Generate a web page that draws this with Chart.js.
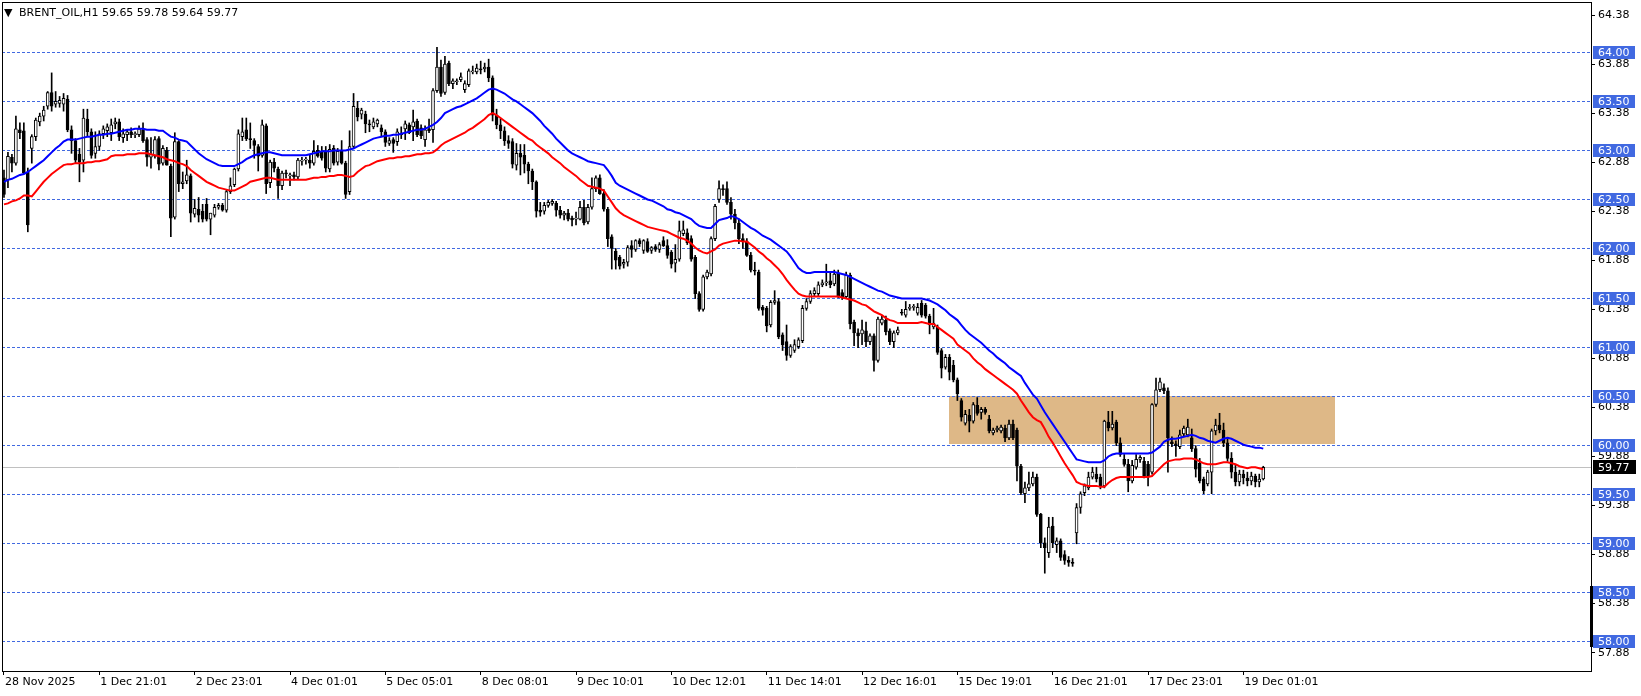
<!DOCTYPE html>
<html><head><meta charset="utf-8">
<script src="https://cdn.jsdelivr.net/npm/chart.js@4.4.1/dist/chart.umd.min.js"></script>
<style>html,body{margin:0;padding:0;background:#fff;overflow:hidden}canvas{display:block}</style>
</head><body>
<canvas id="c" width="1641" height="696"></canvas>
<script>
const symbolTitle = 'BRENT_OIL,H1 59.65 59.78 59.64 59.77';
const dateLabels = ['28 Nov 2025','1 Dec 21:01','2 Dec 23:01','4 Dec 01:01','5 Dec 05:01','8 Dec 08:01','9 Dec 10:01','10 Dec 12:01','11 Dec 14:01','12 Dec 16:01','15 Dec 19:01','16 Dec 21:01','17 Dec 23:01','19 Dec 01:01'];
const opens = [
62.72,62.70,62.93,62.87,63.21,63.20,62.78,63.02,63.14,63.29,
63.35,63.45,63.59,63.47,63.48,63.47,63.52,63.21,63.10,62.96,
62.90,63.32,63.19,62.97,63.04,63.17,63.20,63.18,63.27,63.29,
63.13,63.16,63.19,63.16,63.16,63.21,63.11,62.93,62.94,63.12,
62.87,63.00,62.84,62.32,63.09,62.66,62.69,62.74,62.35,62.40,
62.38,62.45,62.30,62.34,62.42,62.44,62.39,62.58,62.65,62.81,
63.14,63.21,63.12,63.10,63.04,62.95,63.25,62.67,62.88,62.81,
62.64,62.77,62.74,62.75,62.73,62.89,62.90,62.90,62.87,63.00,
62.98,62.99,62.81,63.02,62.88,63.00,62.87,62.58,63.04,63.43,
63.37,63.37,63.27,63.24,63.27,63.23,63.19,63.07,63.11,63.09,
63.17,63.22,63.26,63.24,63.30,63.23,63.11,63.22,63.21,63.61,
63.85,63.59,63.89,63.68,63.70,63.72,63.62,63.67,63.80,63.80,
63.83,63.83,63.85,63.74,63.36,63.26,63.20,63.10,63.09,62.85,
62.97,62.95,62.86,62.79,62.68,62.39,62.38,62.44,62.46,62.46,
62.39,62.34,62.36,62.31,62.30,62.30,62.42,62.27,62.42,62.61,
62.72,62.56,62.40,62.12,61.97,61.91,61.84,61.86,62.03,61.99,
62.08,61.98,62.07,61.98,62.02,61.99,62.08,62.03,61.96,61.85,
61.89,62.15,62.16,62.10,61.91,61.54,61.38,61.71,61.74,62.10,
62.50,62.61,62.61,62.47,62.35,62.26,62.10,62.07,61.93,61.78,
61.76,61.40,61.39,61.22,61.45,61.46,61.12,61.05,60.91,60.96,
61.00,61.06,61.39,61.46,61.54,61.54,61.63,61.65,61.67,61.64,
61.75,61.55,61.51,61.73,61.25,61.14,61.13,61.16,61.05,61.11,
60.86,61.24,61.27,61.16,61.05,61.14,61.35,61.32,61.39,61.40,
61.34,61.44,61.42,61.31,61.20,61.20,60.96,60.79,60.89,60.81,
60.66,60.45,60.22,60.30,60.24,60.40,60.33,60.36,60.26,60.12,
60.15,60.14,60.17,60.07,60.21,60.15,59.78,59.50,59.56,59.60,
59.67,59.29,59.00,58.90,59.17,58.98,59.02,58.88,58.82,58.80,
59.10,59.36,59.51,59.56,59.67,59.70,59.67,59.58,60.23,60.17,
60.23,60.02,59.85,59.80,59.63,59.77,59.85,59.83,59.80,59.72,
60.41,60.56,60.58,60.55,60.03,60.01,59.98,60.11,60.10,60.07,
59.96,59.81,59.65,59.60,59.72,60.14,60.20,60.15,60.02,59.86,
59.72,59.62,59.70,59.66,59.63,59.68,59.62,59.65];
const highs = [
62.80,62.98,62.96,63.35,63.28,63.28,62.82,63.16,63.33,63.38,
63.45,63.60,63.79,63.60,63.55,63.58,63.56,63.25,63.12,63.02,
63.42,63.42,63.22,63.19,63.20,63.25,63.27,63.32,63.33,63.32,
63.22,63.21,63.23,63.19,63.25,63.28,63.13,63.13,63.14,63.14,
63.05,63.03,62.86,63.18,63.10,62.78,62.90,62.76,62.50,62.52,
62.45,62.51,62.36,62.45,62.46,62.46,62.60,62.72,62.82,63.21,
63.33,63.33,63.28,63.12,63.06,63.31,63.27,62.90,62.92,62.83,
62.79,62.80,62.77,62.78,62.92,62.93,62.93,62.95,63.10,63.05,
63.04,63.04,63.06,63.05,63.02,63.10,62.89,63.20,63.58,63.50,
63.43,63.40,63.31,63.33,63.32,63.26,63.21,63.13,63.13,63.22,
63.24,63.30,63.28,63.41,63.32,63.26,63.25,63.32,63.63,64.05,
63.92,63.96,63.91,63.73,63.73,63.79,63.71,63.83,63.86,63.88,
63.91,63.89,63.93,63.76,63.42,63.32,63.24,63.15,63.12,63.07,
63.06,63.06,62.88,62.81,62.69,62.47,62.47,62.49,62.50,62.48,
62.43,62.38,62.40,62.33,62.37,62.48,62.49,62.45,62.72,62.74,
62.75,62.60,62.42,62.14,62.00,61.93,61.89,62.03,62.08,62.09,
62.10,62.09,62.10,62.02,62.04,62.06,62.12,62.09,61.98,62.04,
62.28,62.28,62.20,62.13,61.93,61.56,61.73,61.78,62.12,62.45,
62.69,62.65,62.68,62.52,62.40,62.30,62.15,62.10,61.96,61.86,
61.78,61.42,61.41,61.47,61.57,61.49,61.14,61.22,61.02,61.07,
61.09,61.42,61.49,61.57,61.60,61.66,61.68,61.84,61.76,61.78,
61.78,61.58,61.76,61.75,61.27,61.18,61.27,61.25,61.13,61.13,
61.30,61.31,61.31,61.18,61.16,61.20,61.38,61.46,61.43,61.43,
61.44,61.47,61.44,61.33,61.39,61.22,60.98,60.92,60.92,60.86,
60.68,60.47,60.35,60.36,60.43,60.48,60.38,60.38,60.30,60.17,
60.19,60.20,60.20,60.25,60.25,60.17,59.80,59.62,59.72,59.72,
59.70,59.30,59.05,59.26,59.26,59.05,59.04,58.92,58.86,58.84,
59.40,59.52,59.60,59.72,59.77,59.77,59.70,60.25,60.34,60.34,
60.25,60.07,59.90,59.85,59.84,59.90,59.89,59.87,59.83,60.42,
60.68,60.68,60.62,60.58,60.08,60.04,60.15,60.19,60.26,60.16,
59.99,59.86,59.67,59.74,60.16,60.26,60.32,60.22,60.06,59.92,
59.80,59.74,59.74,59.72,59.72,59.70,59.70,59.78];
const lows = [
62.52,62.62,62.78,62.85,63.12,62.76,62.17,62.87,63.10,63.25,
63.30,63.42,63.40,63.44,63.44,63.40,63.19,62.97,62.87,62.68,
62.78,63.15,62.92,62.92,63.00,63.12,63.14,63.10,63.22,63.10,
63.08,63.10,63.13,63.13,63.14,63.08,62.84,62.82,62.92,62.80,
62.85,62.85,62.12,62.30,62.58,62.61,62.66,62.27,62.32,62.27,
62.27,62.28,62.14,62.32,62.40,62.38,62.37,62.56,62.63,62.79,
63.10,63.10,63.02,62.92,62.79,62.93,62.56,62.62,62.78,62.51,
62.60,62.72,62.64,62.70,62.71,62.85,62.86,62.82,62.85,62.93,
62.90,62.78,62.78,62.85,62.85,62.86,62.51,62.55,63.02,63.30,
63.32,63.18,63.19,63.22,63.24,63.15,63.04,63.05,62.98,63.05,
63.12,63.11,63.17,63.10,63.14,63.12,63.04,63.18,63.08,63.59,
63.55,63.57,63.66,63.63,63.67,63.70,63.59,63.65,63.78,63.78,
63.78,63.80,63.70,63.30,63.22,63.12,63.05,63.02,62.82,62.80,
62.75,62.77,62.66,62.60,62.32,62.33,62.35,62.42,62.44,62.33,
62.31,62.29,62.28,62.23,62.24,62.29,62.24,62.25,62.40,62.58,
62.55,62.38,62.02,61.79,61.79,61.79,61.80,61.82,61.91,61.97,
62.02,61.95,61.96,61.95,61.97,61.96,62.02,61.90,61.80,61.76,
61.87,62.13,62.04,61.87,61.49,61.36,61.36,61.69,61.72,62.08,
62.47,62.54,62.45,62.30,62.20,62.05,62.00,61.92,61.76,61.73,
61.37,61.32,61.15,61.20,61.43,61.08,60.96,60.86,60.89,60.94,
60.98,61.04,61.37,61.44,61.52,61.52,61.61,61.62,61.60,61.62,
61.50,61.48,61.49,61.18,61.01,60.99,61.02,61.00,61.02,60.75,
60.84,61.22,61.12,61.02,60.99,61.12,61.32,61.30,61.37,61.37,
61.32,61.30,61.29,61.13,61.18,60.92,60.68,60.77,60.66,60.64,
60.45,60.24,60.20,60.13,60.22,60.30,60.26,60.31,60.12,60.10,
60.13,60.12,60.03,60.05,60.05,59.63,59.49,59.41,59.53,59.58,
59.27,58.95,58.69,58.85,58.95,58.90,58.82,58.78,58.76,58.76,
58.99,59.30,59.48,59.54,59.65,59.62,59.55,59.56,60.14,60.15,
59.99,59.88,59.78,59.52,59.61,59.75,59.82,59.66,59.58,59.70,
60.39,60.54,60.52,59.72,59.98,59.88,59.96,60.09,60.08,59.93,
59.67,59.61,59.50,59.58,59.50,60.10,60.12,59.98,59.83,59.66,
59.58,59.58,59.60,59.58,59.59,59.57,59.57,59.64];
const closes = [
62.55,62.94,62.87,63.22,63.18,62.77,62.24,63.14,63.31,63.35,
63.41,63.59,63.45,63.50,63.51,63.53,63.21,63.10,62.90,62.88,
63.33,63.19,62.95,63.04,63.17,63.22,63.24,63.26,63.29,63.14,
63.17,63.19,63.16,63.17,63.22,63.10,62.93,62.96,63.11,62.86,
63.02,62.85,62.31,63.09,62.66,62.68,62.75,62.36,62.41,62.34,
62.30,62.30,62.36,62.42,62.44,62.39,62.58,62.64,62.81,63.17,
63.19,63.12,63.11,63.05,62.94,63.26,62.66,62.88,62.82,62.64,
62.77,62.76,62.75,62.73,62.90,62.90,62.91,62.87,62.99,62.94,
62.92,62.82,63.01,62.87,62.99,62.87,62.55,63.04,63.45,63.34,
63.41,63.27,63.26,63.29,63.31,63.19,63.08,63.10,63.07,63.19,
63.16,63.27,63.18,63.29,63.16,63.15,63.21,63.20,63.61,63.85,
63.58,63.88,63.68,63.71,63.71,63.75,63.68,63.81,63.81,63.84,
63.82,63.85,63.74,63.36,63.26,63.20,63.10,63.07,62.86,62.97,
62.93,62.86,62.79,62.68,62.38,62.37,62.44,62.47,62.48,62.39,
62.34,62.36,62.30,62.29,62.31,62.42,62.26,62.42,62.61,62.72,
62.56,62.40,62.10,62.00,61.88,61.82,61.86,62.01,61.99,62.08,
62.05,62.08,61.97,62.01,61.99,62.04,62.03,61.93,61.84,61.89,
62.18,62.19,62.06,61.89,61.54,61.38,61.71,61.76,62.10,62.43,
62.61,62.60,62.47,62.35,62.26,62.10,62.07,61.93,61.78,61.77,
61.39,61.37,61.21,61.45,61.47,61.10,61.02,60.91,61.00,61.02,
61.07,61.39,61.46,61.54,61.57,61.63,61.65,61.66,61.63,61.74,
61.52,61.51,61.73,61.23,61.14,61.11,61.17,61.05,61.11,60.86,
61.28,61.28,61.15,61.05,61.14,61.17,61.34,61.38,61.40,61.41,
61.40,61.32,61.31,61.22,61.24,60.94,60.78,60.89,60.74,60.66,
60.52,60.28,60.31,60.24,60.41,60.32,60.36,60.33,60.14,60.15,
60.17,60.18,60.07,60.21,60.07,59.78,59.51,59.56,59.60,59.67,
59.29,59.00,58.95,59.16,59.00,59.02,58.85,58.82,58.80,58.79,
59.36,59.50,59.58,59.67,59.72,59.65,59.58,60.24,60.17,60.21,
60.02,59.90,59.80,59.63,59.79,59.85,59.87,59.68,59.68,60.41,
60.56,60.64,60.55,60.07,60.01,59.99,60.10,60.17,60.18,59.96,
59.75,59.63,59.53,59.72,60.14,60.20,60.15,60.02,59.86,59.72,
59.62,59.70,59.66,59.63,59.68,59.62,59.65,59.77];
const maBlue = [
62.68,62.70,62.71,62.73,62.75,62.76,62.78,62.81,62.84,62.87,
62.90,62.94,62.98,63.02,63.05,63.09,63.11,63.11,63.11,63.12,
63.13,63.14,63.14,63.15,63.16,63.16,63.17,63.17,63.18,63.19,
63.20,63.21,63.21,63.22,63.22,63.22,63.21,63.21,63.21,63.20,
63.20,63.17,63.14,63.13,63.11,63.10,63.09,63.05,63.01,62.97,
62.94,62.91,62.89,62.87,62.85,62.84,62.84,62.84,62.84,62.86,
62.88,62.91,62.93,62.95,62.96,62.97,62.98,62.98,62.97,62.96,
62.95,62.95,62.95,62.95,62.95,62.95,62.95,62.96,62.97,62.98,
62.99,62.99,62.99,63.00,63.00,63.00,63.00,63.01,63.02,63.04,
63.06,63.08,63.10,63.12,63.13,63.14,63.15,63.15,63.16,63.16,
63.17,63.18,63.19,63.20,63.21,63.21,63.22,63.24,63.26,63.29,
63.33,63.38,63.40,63.42,63.44,63.45,63.47,63.49,63.51,63.53,
63.56,63.59,63.62,63.63,63.62,63.60,63.58,63.55,63.52,63.50,
63.47,63.44,63.41,63.38,63.34,63.30,63.25,63.21,63.17,63.12,
63.08,63.04,63.00,62.97,62.95,62.93,62.91,62.89,62.88,62.87,
62.86,62.85,62.80,62.74,62.67,62.64,62.62,62.60,62.58,62.56,
62.54,62.52,62.50,62.49,62.47,62.45,62.43,62.40,62.39,62.37,
62.36,62.34,62.32,62.30,62.26,62.23,62.22,62.21,62.21,62.25,
62.29,62.30,62.31,62.33,62.32,62.30,62.27,62.24,62.21,62.19,
62.16,62.13,62.11,62.09,62.06,62.03,62.00,61.97,61.92,61.86,
61.80,61.77,61.75,61.75,61.76,61.76,61.76,61.76,61.76,61.76,
61.75,61.74,61.73,61.71,61.69,61.67,61.65,61.63,61.61,61.59,
61.57,61.56,61.54,61.52,61.51,61.50,61.49,61.49,61.49,61.49,
61.49,61.49,61.48,61.47,61.45,61.43,61.40,61.37,61.33,61.30,
61.27,61.22,61.17,61.13,61.10,61.07,61.04,61.00,60.96,60.93,
60.89,60.86,60.83,60.79,60.76,60.73,60.70,60.63,60.57,60.51,
60.47,60.40,60.33,60.27,60.21,60.15,60.09,60.03,59.97,59.91,
59.85,59.84,59.83,59.82,59.82,59.82,59.82,59.84,59.88,59.90,
59.91,59.91,59.91,59.91,59.91,59.91,59.91,59.91,59.91,59.92,
59.95,59.98,60.03,60.05,60.06,60.06,60.07,60.08,60.09,60.10,
60.09,60.07,60.06,60.04,60.03,60.02,60.04,60.06,60.07,60.06,
60.04,60.02,60.00,59.99,59.98,59.97,59.97,59.96];
const maRed = [
62.45,62.46,62.48,62.49,62.51,62.54,62.54,62.53,62.58,62.63,
62.68,62.72,62.76,62.79,62.82,62.85,62.86,62.86,62.87,62.87,
62.87,62.88,62.88,62.89,62.89,62.90,62.91,62.94,62.95,62.95,
62.95,62.96,62.96,62.96,62.97,62.97,62.97,62.96,62.95,62.94,
62.93,62.91,62.90,62.89,62.87,62.86,62.84,62.80,62.77,62.74,
62.71,62.68,62.66,62.64,62.62,62.61,62.60,62.59,62.59,62.61,
62.63,62.65,62.68,62.69,62.70,62.71,62.72,62.72,62.71,62.70,
62.70,62.70,62.70,62.70,62.70,62.70,62.70,62.71,62.72,62.72,
62.73,62.73,62.74,62.74,62.75,62.75,62.74,62.73,62.74,62.78,
62.81,62.84,62.85,62.87,62.89,62.90,62.91,62.92,62.92,62.93,
62.93,62.94,62.94,62.95,62.96,62.96,62.97,62.97,62.98,63.01,
63.05,63.08,63.10,63.12,63.14,63.16,63.18,63.21,63.23,63.26,
63.29,63.32,63.36,63.38,63.36,63.33,63.30,63.27,63.24,63.21,
63.18,63.15,63.12,63.10,63.06,63.03,63.00,62.97,62.93,62.90,
62.87,62.83,62.80,62.77,62.74,62.70,62.67,62.64,62.63,62.62,
62.61,62.59,62.53,62.47,62.41,62.37,62.34,62.32,62.30,62.28,
62.26,62.24,62.22,62.21,62.20,62.19,62.18,62.17,62.15,62.13,
62.11,62.10,62.08,62.05,62.01,61.98,61.96,61.95,61.97,61.99,
62.03,62.05,62.06,62.07,62.08,62.08,62.07,62.07,62.04,62.01,
61.97,61.94,61.90,61.87,61.83,61.79,61.74,61.68,61.63,61.58,
61.54,61.52,61.51,61.51,61.51,61.51,61.51,61.51,61.51,61.51,
61.51,61.50,61.49,61.48,61.47,61.45,61.43,61.42,61.39,61.36,
61.34,61.32,61.29,61.27,61.26,61.24,61.24,61.24,61.24,61.24,
61.24,61.25,61.24,61.23,61.23,61.20,61.17,61.14,61.11,61.08,
61.02,60.99,60.96,60.93,60.88,60.84,60.81,60.77,60.74,60.71,
60.68,60.65,60.62,60.59,60.56,60.52,60.45,60.39,60.33,60.28,
60.25,60.23,60.16,60.08,60.02,59.95,59.88,59.81,59.75,59.69,
59.62,59.60,59.59,59.58,59.58,59.58,59.57,59.57,59.61,59.64,
59.66,59.67,59.67,59.67,59.67,59.67,59.67,59.67,59.67,59.68,
59.72,59.76,59.80,59.83,59.84,59.85,59.85,59.86,59.86,59.86,
59.85,59.83,59.81,59.80,59.80,59.80,59.81,59.82,59.82,59.81,
59.80,59.78,59.77,59.76,59.77,59.77,59.76,59.75];
const yTicks = [57.88,58.38,58.88,59.38,59.88,60.38,60.88,61.38,61.88,62.38,62.88,63.38,63.88,64.38];
const levels = [58.00,58.50,59.00,59.50,60.00,60.50,61.00,61.50,62.00,62.50,63.00,63.50,64.00];
const lastPrice = 59.77;
const zone = {from: 238, to: 335, top: 60.50, bottom: 60.01};
const slotCount = 400;
const labelEvery = 24;

const xCats = Array.from({length: slotCount}, (_, i) => (i % labelEvery === 0 && dateLabels[i / labelEvery]) ? dateLabels[i / labelEvery] : '');
const bodyColors = opens.map((o, i) => closes[i] >= o ? '#ffffff' : '#000000');

Chart.defaults.font.family = 'DejaVu Sans';
Chart.defaults.font.size = 11;
Chart.defaults.color = '#000';

const FONT = '11px "DejaVu Sans"';
const overlay = {
  id: 'overlay',
  beforeDatasetsDraw(chart) {
    const {ctx, chartArea: a, scales: {x, y}} = chart;
    ctx.save();
    ctx.beginPath(); ctx.rect(a.left, a.top, a.right - a.left, a.bottom - a.top); ctx.clip();
    const x1 = Math.round(x.getPixelForValue(zone.from)), x2 = Math.round(x.getPixelForValue(zone.to));
    const y1 = Math.round(y.getPixelForValue(zone.top)), y2 = Math.round(y.getPixelForValue(zone.bottom));
    ctx.fillStyle = '#DEB887';
    ctx.fillRect(x1, y1, x2 - x1, y2 - y1);
    ctx.strokeStyle = '#4169E1'; ctx.lineWidth = 1; ctx.setLineDash([3, 2]);
    levels.forEach(v => {
      const py = Math.round(y.getPixelForValue(v)) + 0.5;
      ctx.beginPath(); ctx.moveTo(a.left, py); ctx.lineTo(a.right, py); ctx.stroke();
    });
    ctx.setLineDash([]);
    ctx.strokeStyle = '#C0C0C0';
    const lp = Math.round(y.getPixelForValue(lastPrice)) + 0.5;
    ctx.beginPath(); ctx.moveTo(a.left, lp); ctx.lineTo(a.right, lp); ctx.stroke();
    ctx.restore();
  },
  afterDraw(chart) {
    const {ctx, chartArea: a, scales: {y}} = chart;
    ctx.save();
    ctx.strokeStyle = '#000'; ctx.lineWidth = 1;
    ctx.strokeRect(a.left + 0.5, a.top - 0.5, a.right - a.left, a.bottom - a.top + 1);
    ctx.font = FONT; ctx.textBaseline = 'middle'; ctx.textAlign = 'left';
    levels.forEach(v => {
      const py = Math.round(y.getPixelForValue(v));
      ctx.fillStyle = '#4169E1';
      ctx.fillRect(a.right + 2, py - 6, 42, 13);
      ctx.fillStyle = '#fff';
      ctx.fillText(v.toFixed(2), a.right + 7, py + 1);
    });
    const lp = Math.round(y.getPixelForValue(lastPrice));
    ctx.fillStyle = '#000';
    ctx.fillRect(a.right + 2, lp - 7, 43, 14);
    ctx.fillStyle = '#fff';
    ctx.fillText(lastPrice.toFixed(2), a.right + 7, lp + 1);
    const b1 = y.getPixelForValue(58.56), b2 = y.getPixelForValue(57.94);
    ctx.fillStyle = '#000';
    ctx.fillRect(a.right - 1, Math.round(b1), 3, Math.round(b2 - b1));
    ctx.fillStyle = '#000';
    ctx.fillText('\u25BC', 4, 13);
    ctx.fillText(symbolTitle, 19, 13);
    ctx.restore();
  }
};

new Chart(document.getElementById('c'), {
  type: 'bar',
  data: {
    labels: xCats,
    datasets: [
      {type: 'line', data: maBlue, borderColor: '#0000FF', borderWidth: 2, pointRadius: 0, tension: 0, order: 0},
      {type: 'line', data: maRed, borderColor: '#FF0000', borderWidth: 2, pointRadius: 0, tension: 0, order: 0},
      {type: 'bar', data: opens.map((o, i) => [o, closes[i]]), backgroundColor: bodyColors, borderColor: '#000', borderWidth: 1, borderSkipped: false, barThickness: 3, minBarLength: 1, grouped: false, order: 1},
      {type: 'bar', data: lows.map((l, i) => [l, highs[i]]), backgroundColor: '#000', borderWidth: 0, barThickness: 1, grouped: false, order: 2}
    ]
  },
  options: {
    responsive: false, animation: false, devicePixelRatio: 1,
    layout: {padding: {left: 2, top: 3, right: 0, bottom: 0}},
    plugins: {legend: {display: false}, tooltip: {enabled: false}},
    scales: {
      x: {
        type: 'category', offset: true, position: 'bottom',
        grid: {display: true, drawOnChartArea: false, drawTicks: true, tickLength: 4, offset: false,
          color: c => (c.tick && c.tick.label) ? '#000' : 'rgba(0,0,0,0)'},
        border: {display: false},
        ticks: {autoSkip: false, maxRotation: 0, minRotation: 0, align: 'start', padding: 1, labelOffset: 1,
          callback: (v, i) => xCats[i]},
        afterFit: s => { s.height = 25; s.paddingLeft = 0; s.paddingRight = 0; }
      },
      y: {
        type: 'linear', position: 'right', min: 57.693, max: 64.5025,
        grid: {display: true, drawOnChartArea: false, drawTicks: true, tickLength: 4, color: '#000'},
        border: {display: false},
        afterBuildTicks: s => { s.ticks = yTicks.map(v => ({value: v})); },
        ticks: {padding: 3, callback: v => Number(v).toFixed(2)},
        afterFit: s => { s.width = 50; s.paddingTop = 0; s.paddingBottom = 0; }
      }
    }
  },
  plugins: [overlay]
});
</script>
</body></html>
